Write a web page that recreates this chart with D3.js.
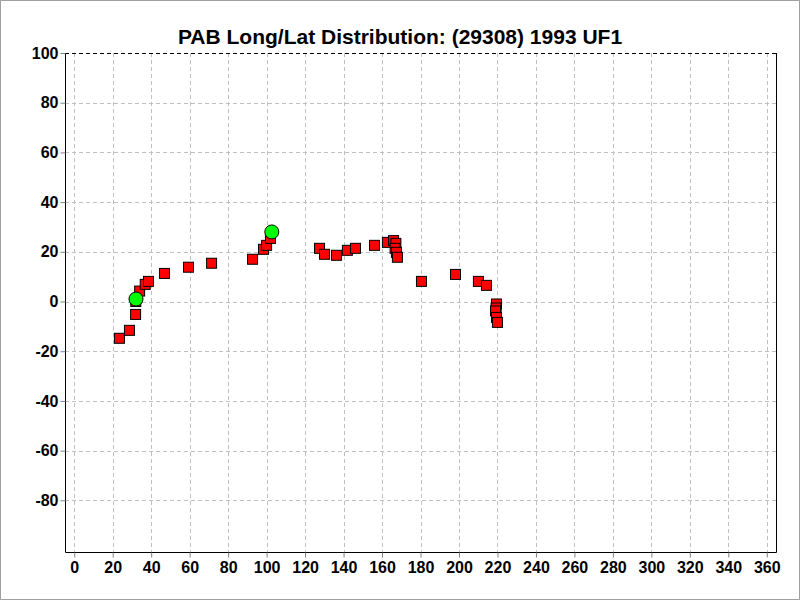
<!DOCTYPE html>
<html>
<head>
<meta charset="utf-8">
<script src="https://cdn.jsdelivr.net/npm/d3@7"></script>
<style>
  body { margin: 0; background: #fff; }
  svg { display: block; }
  text { font-family: "Liberation Sans", Arial, sans-serif; font-weight: bold; fill: #000; }
</style>
</head>
<body>
<svg width="800" height="600"></svg>
<script>
// observations (longitude, latitude)
const obsLon = [23.5, 28.7, 31.9, 32.0, 34.0, 36.9, 38.6, 46.9, 59.4, 71.4, 92.7, 98.4, 100.0, 102.0,
  127.5, 130.1, 136.3, 142.0, 146.2, 156.1, 162.8, 166.0, 167.2, 166.8, 167.5, 168.0,
  180.5, 198.2, 210.1, 214.3, 219.5, 219.3, 219.0, 219.5, 220.0];
const obsLat = [-14.8, -11.6, -5.2, 0.0, 4.2, 6.9, 8.1, 11.3, 13.8, 15.4, 17.0, 21.0, 22.6, 25.4,
  21.4, 19.0, 18.6, 20.6, 21.4, 22.6, 23.8, 24.5, 23.4, 21.4, 19.8, 17.8,
  8.1, 10.9, 8.1, 6.5, -1.0, -2.6, -3.8, -6.4, -8.4];
// highlighted positions
const hiLon = [32.1, 102.7];
const hiLat = [1.0, 28.0];

const xTicks = d3.range(0, 361, 20);
const yTicks = d3.range(-80, 101, 20);
const title = "PAB Long/Lat Distribution: (29308) 1993 UF1";

const svg = d3.select("svg");
const mLeft = 65, mRight = 776, mTop = 53, mBottom = 552;

const x = d3.scaleLinear().domain([-4.8, 364.8]).range([mLeft, mRight]);
const y = d3.scaleLinear().domain([-100.8, 100]).range([mBottom, mTop]);

// outer frame
svg.append("rect")
  .attr("x", 0.5).attr("y", 0.5).attr("width", 799).attr("height", 599)
  .attr("fill", "#fff").attr("stroke", "#a0a0a0");

// grid
const grid = svg.append("g").attr("stroke", "#c0c0c0").attr("stroke-dasharray", "4,3");
grid.selectAll("line.gx")
  .data(xTicks)
  .join("line")
  .attr("class", "gx")
  .attr("x1", d => Math.round(x(d)) + 0.5).attr("x2", d => Math.round(x(d)) + 0.5)
  .attr("y1", mTop).attr("y2", mBottom);
grid.selectAll("line.gy")
  .data(yTicks.filter(d => d < 100))
  .join("line")
  .attr("class", "gy")
  .attr("y1", d => Math.round(y(d)) + 0.5).attr("y2", d => Math.round(y(d)) + 0.5)
  .attr("x1", mLeft).attr("x2", mRight);

// plot frame: top dashed, others solid
svg.append("line")
  .attr("x1", mLeft).attr("x2", mRight).attr("y1", mTop + 0.5).attr("y2", mTop + 0.5)
  .attr("stroke", "#000").attr("stroke-dasharray", "4,3");
svg.append("path")
  .attr("d", `M${mLeft + 0.5},${mTop}V${mBottom + 0.5}H${mRight + 0.5}V${mTop}`)
  .attr("fill", "none").attr("stroke", "#000");

// axes (plain hyphen for negatives, like the original)
const fmt = d => String(d);
const xAxis = svg.append("g")
  .attr("transform", `translate(0,${mBottom + 0.5})`)
  .call(d3.axisBottom(x).tickValues(xTicks).tickSize(5).tickPadding(4).tickFormat(fmt));
const yAxis = svg.append("g")
  .attr("transform", `translate(${mLeft + 0.5},0)`)
  .call(d3.axisLeft(y).tickValues(yTicks).tickSize(5).tickPadding(2).tickFormat(fmt));
[xAxis, yAxis].forEach(a => {
  a.select(".domain").remove();
  a.selectAll(".tick line").attr("stroke", "#808080");
  a.selectAll(".tick text")
    .style("font-family", "'Liberation Sans', Arial, sans-serif")
    .style("font-weight", "bold")
    .style("font-size", "16px")
    .attr("fill", "#000");
});

// observation squares
svg.append("g")
  .selectAll("rect")
  .data(obsLon.map((d, i) => [d, obsLat[i]]))
  .join("rect")
  .attr("x", d => x(d[0]) - 5)
  .attr("y", d => y(d[1]) - 5)
  .attr("width", 10).attr("height", 10)
  .attr("fill", "#ff0000").attr("stroke", "#000").attr("stroke-width", 1);

// highlighted circles
svg.append("g")
  .selectAll("circle")
  .data(hiLon.map((d, i) => [d, hiLat[i]]))
  .join("circle")
  .attr("cx", d => x(d[0]))
  .attr("cy", d => y(d[1]))
  .attr("r", 7)
  .attr("fill", "#00ff00").attr("stroke", "#000").attr("stroke-width", 1);

svg.append("text")
  .attr("x", 400).attr("y", 44)
  .attr("text-anchor", "middle")
  .style("font-size", "21px")
  .text(title);
</script>
</body>
</html>
